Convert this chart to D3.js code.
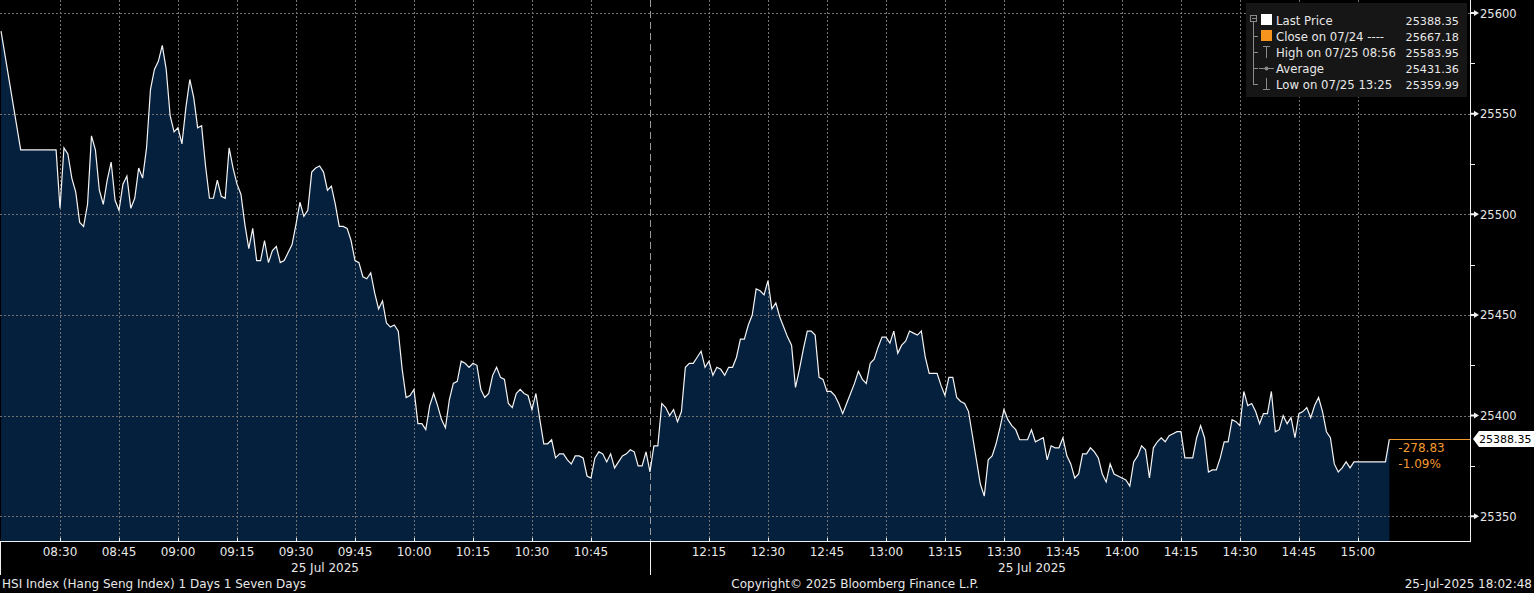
<!DOCTYPE html>
<html lang="en">
<head>
<meta charset="UTF-8">
<title>HSI Index intraday</title>
<script src="https://d3js.org/d3.v7.min.js"></script>
<style>
body, html {
	margin: 0;
	padding: 0;
	background: #000;
	overflow: hidden;
}
text {
	font-family: "DejaVu Sans", sans-serif;
	font-size: 12px;
	fill: #e8e8e8;
}
.grid line {
	stroke: #727272;
	stroke-width: 1px;
	stroke-dasharray: 2,2;
	shape-rendering: crispEdges;
}
.axisline {
	stroke: #f0f0f0;
	stroke-width: 1px;
	shape-rendering: crispEdges;
}
.price {
	fill: none;
	stroke: #f4f4f4;
	stroke-width: 1.2px;
}
.area {
	fill: #05203d;
}
.legend-icon {
	stroke: #8a8a8a;
	fill: none;
	shape-rendering: crispEdges;
}
.chg {
	fill: #f39a2e;
}
</style>
</head>
<body>
<script>
// pre-open auction (chart clock)
var preTimes = ["08:15", "08:20", "08:29"];
var prePrices = [25591, 25532, 25532];

// morning session, one price per minute from 08:30 to 10:59
var amStart = "08:30";
var amPrices = [
	25503, 25533, 25530, 25518, 25511, 25496, 25494, 25505, 25539, 25532,
	25512, 25505, 25517, 25526, 25507, 25502, 25515, 25519, 25503, 25508,
	25523, 25518, 25533, 25562, 25572, 25576, 25584, 25572, 25549, 25541,
	25543, 25535, 25553, 25567, 25558, 25543, 25544, 25524, 25508, 25508,
	25517, 25509, 25508, 25533, 25523, 25515, 25510, 25495, 25483, 25493,
	25477, 25477, 25487, 25476, 25482, 25484, 25476, 25477, 25481, 25485,
	25495, 25506, 25499, 25502, 25521, 25523, 25524, 25521, 25512, 25514,
	25505, 25494, 25494, 25493, 25487, 25477, 25476, 25469, 25468, 25471,
	25461, 25453, 25457, 25446, 25444, 25445, 25442, 25423, 25409, 25410,
	25413, 25396, 25396, 25393, 25405, 25411, 25405, 25398, 25394, 25408,
	25416, 25417, 25427, 25426, 25424, 25426, 25425, 25413, 25409, 25411,
	25420, 25424, 25419, 25418, 25406, 25404, 25411, 25413, 25411, 25410,
	25403, 25411, 25398, 25386, 25386, 25388, 25379, 25381, 25381, 25378,
	25376, 25380, 25380, 25379, 25370, 25369, 25379, 25382, 25381, 25377,
	25381, 25374, 25377, 25380, 25381, 25383, 25382, 25375, 25375, 25382
];

// afternoon session, one price per minute from 12:00 to 15:00
var pmStart = "12:00";
var pmPrices = [
	25372, 25385, 25385, 25406, 25404, 25400, 25403, 25397, 25402, 25424,
	25426, 25426, 25429, 25432, 25424, 25427, 25420, 25424, 25423, 25420,
	25424, 25424, 25429, 25438, 25438, 25445, 25450, 25463, 25462, 25460,
	25467, 25453, 25456, 25449, 25444, 25439, 25435, 25414, 25423, 25433,
	25442, 25442, 25440, 25419, 25418, 25412, 25412, 25410, 25406, 25401,
	25406, 25411, 25416, 25422, 25418, 25416, 25426, 25428, 25434, 25439,
	25439, 25436, 25442, 25431, 25435, 25437, 25442, 25441, 25440, 25442,
	25429, 25421, 25421, 25421, 25415, 25410, 25419, 25419, 25409, 25407,
	25406, 25402, 25390, 25378, 25366, 25360, 25378, 25380, 25386, 25394,
	25403, 25398, 25395, 25393, 25388, 25388, 25388, 25393, 25387, 25388,
	25389, 25378, 25385, 25384, 25384, 25389, 25380, 25376, 25369, 25371,
	25381, 25381, 25384, 25382, 25379, 25371, 25367, 25376, 25371, 25370,
	25369, 25368, 25365, 25377, 25380, 25385, 25383, 25369, 25384, 25387,
	25389, 25387, 25390, 25391, 25392, 25392, 25379, 25379, 25379, 25389,
	25395, 25389, 25372, 25373, 25373, 25379, 25387, 25387, 25398, 25397,
	25395, 25412, 25405, 25406, 25402, 25396, 25401, 25401, 25412, 25392,
	25393, 25400, 25396, 25399, 25389, 25401, 25402, 25404, 25399, 25405,
	25409, 25402, 25392, 25389, 25376, 25372, 25374, 25377, 25374, 25377,
	25377
];

// closing auction
var closeTimes = ["15:07", "15:08"];
var closePrices = [25377, 25388.35];

var xTicks = ["08:30", "08:45", "09:00", "09:15", "09:30", "09:45", "10:00", "10:15", "10:30", "10:45",
	"12:15", "12:30", "12:45", "13:00", "13:15", "13:30", "13:45", "14:00", "14:15", "14:30", "14:45", "15:00"];
var yTicks = [25350, 25400, 25450, 25500, 25550, 25600];
var yMinorTicks = [25375, 25425, 25475, 25525, 25575];

var legendLabels = ["Last Price", "Close on 07/24 ----", "High on 07/25 08:56", "Average", "Low on 07/25 13:25"];
var legendValues = ["25388.35", "25667.18", "25583.95", "25431.36", "25359.99"];
var netChange = "-278.83";
var pctChange = "-1.09%";

var W = 1534, H = 593;
var plotRight = 1470, plotBottom = 541;

// chart clock with lunch removed: 12:00 sits right after 10:59
function toMin(s) {
	var p = s.split(":");
	var t = (+p[0]) * 60 + (+p[1]);
	return t >= 720 ? t - 60 : t;
}

var points = [];
preTimes.forEach(function(t, i) { points.push({t: toMin(t), v: prePrices[i]}); });
amPrices.forEach(function(v, i) { points.push({t: toMin(amStart) + i, v: v}); });
pmPrices.forEach(function(v, i) { points.push({t: toMin(pmStart) + i, v: v}); });
closeTimes.forEach(function(t, i) { points.push({t: toMin(t), v: closePrices[i]}); });

var x = d3.scaleLinear()
	.domain([494.74, 868.5])
	.range([0, plotRight]);

var y = d3.scaleLinear()
	.domain([25337.7, 25606.5])
	.range([plotBottom, 0]);

var svg = d3.select("body").append("svg")
	.attr("width", W)
	.attr("height", H);

svg.append("rect").attr("width", W).attr("height", H).attr("fill", "#000");

// area + line
var area = d3.area()
	.x(function(d) { return x(d.t); })
	.y0(plotBottom)
	.y1(function(d) { return y(d.v); });

var line = d3.line()
	.x(function(d) { return x(d.t); })
	.y(function(d) { return y(d.v); });

svg.append("path").datum(points).attr("class", "area").attr("d", area);

// gridlines
var grid = svg.append("g").attr("class", "grid");
grid.selectAll(".hg")
	.data(yTicks)
	.enter().append("line")
	.attr("x1", 0).attr("x2", plotRight)
	.attr("y1", function(d) { return Math.round(y(d)) + 0.5; })
	.attr("y2", function(d) { return Math.round(y(d)) + 0.5; });
grid.selectAll(".vg")
	.data(xTicks)
	.enter().append("line")
	.attr("y1", 0).attr("y2", plotBottom)
	.attr("x1", function(d) { return Math.round(x(toMin(d))) + 0.5; })
	.attr("x2", function(d) { return Math.round(x(toMin(d))) + 0.5; });

// session break
var breakX = Math.round(x(toMin("12:00"))) + 0.5;
svg.append("line")
	.attr("x1", breakX).attr("x2", breakX)
	.attr("y1", 0).attr("y2", plotBottom)
	.attr("stroke", "#9a9a9a")
	.attr("stroke-dasharray", "7,4");

svg.append("path").datum(points).attr("class", "price").attr("d", line);

// change vs previous close marker
var last = points[points.length - 1];
svg.append("line")
	.attr("x1", x(last.t)).attr("x2", plotRight)
	.attr("y1", Math.round(y(last.v)) + 0.5).attr("y2", Math.round(y(last.v)) + 0.5)
	.attr("stroke", "#f39a2e");
svg.append("text").attr("class", "chg")
	.attr("x", x(last.t) + 9).attr("y", y(last.v) + 13)
	.text(netChange);
svg.append("text").attr("class", "chg")
	.attr("x", x(last.t) + 9).attr("y", y(last.v) + 29)
	.text(pctChange);

// bottom axis
svg.append("line").attr("class", "axisline")
	.attr("x1", 0).attr("x2", plotRight + 1)
	.attr("y1", plotBottom + 0.5).attr("y2", plotBottom + 0.5);
svg.append("line").attr("class", "axisline")
	.attr("x1", 0.5).attr("x2", 0.5)
	.attr("y1", plotBottom).attr("y2", 575);
svg.append("line").attr("class", "axisline")
	.attr("x1", breakX).attr("x2", breakX)
	.attr("y1", plotBottom).attr("y2", 575);

svg.selectAll(".xtick")
	.data(xTicks)
	.enter().append("line")
	.attr("class", "axisline")
	.attr("x1", function(d) { return Math.round(x(toMin(d))) + 0.5; })
	.attr("x2", function(d) { return Math.round(x(toMin(d))) + 0.5; })
	.attr("y1", plotBottom - 3).attr("y2", plotBottom);

svg.selectAll(".xlabel")
	.data(xTicks)
	.enter().append("text")
	.attr("x", function(d) { return x(toMin(d)); })
	.attr("y", 556)
	.style("text-anchor", "middle")
	.text(function(d) { return d; });

svg.append("text").attr("x", 325).attr("y", 572).style("text-anchor", "middle").text("25 Jul 2025");
svg.append("text").attr("x", 1032).attr("y", 572).style("text-anchor", "middle").text("25 Jul 2025");

// right axis
svg.append("line").attr("class", "axisline")
	.attr("x1", plotRight + 0.5).attr("x2", plotRight + 0.5)
	.attr("y1", 0).attr("y2", plotBottom + 1);

svg.selectAll(".ytri")
	.data(yTicks)
	.enter().append("path")
	.attr("fill", "#f0f0f0")
	.attr("d", function(d) {
		var yy = y(d);
		return "M" + (plotRight + 1) + "," + (yy - 1) + "L" + (plotRight + 4) + "," + (yy - 1) +
			"L" + (plotRight + 4) + "," + (yy - 3) + "L" + (plotRight + 9) + "," + yy +
			"L" + (plotRight + 4) + "," + (yy + 3) + "L" + (plotRight + 4) + "," + (yy + 1) +
			"L" + (plotRight + 1) + "," + (yy + 1) + "Z";
	});

svg.selectAll(".yminor")
	.data(yMinorTicks)
	.enter().append("line")
	.attr("class", "axisline")
	.attr("x1", plotRight + 1).attr("x2", plotRight + 5)
	.attr("y1", function(d) { return Math.round(y(d)) + 0.5; })
	.attr("y2", function(d) { return Math.round(y(d)) + 0.5; });

svg.selectAll(".ylabel")
	.data(yTicks)
	.enter().append("text")
	.attr("x", plotRight + 10)
	.attr("y", function(d) { return y(d) + 4.5; })
	.style("font-size", "11.5px")
	.text(function(d) { return d; });

// last price tag
var ly = y(last.v);
svg.append("path")
	.attr("fill", "#ffffff")
	.attr("d", "M" + (plotRight + 3) + "," + ly + "L" + (plotRight + 9) + "," + (ly - 8) +
		"L" + W + "," + (ly - 8) + "L" + W + "," + (ly + 8) + "L" + (plotRight + 9) + "," + (ly + 8) + "Z");
svg.append("text")
	.attr("x", plotRight + 9).attr("y", ly + 4)
	.style("fill", "#000")
	.style("font-size", "11px")
	.text(legendValues[0]);

// legend
var lg = svg.append("g");
lg.append("rect")
	.attr("x", 1246).attr("y", 3).attr("width", 221).attr("height", 94)
	.attr("fill", "#161616");

var rowY = [20, 36, 52, 68, 84];
lg.append("rect").attr("class", "legend-icon")
	.attr("x", 1250.5).attr("y", 15.5).attr("width", 6).attr("height", 6);
lg.append("line").attr("class", "legend-icon")
	.attr("x1", 1251.5).attr("x2", 1255.5).attr("y1", 18.5).attr("y2", 18.5);
lg.append("line").attr("class", "legend-icon")
	.attr("x1", 1253.5).attr("x2", 1253.5).attr("y1", 22).attr("y2", rowY[4] + 0.5);
lg.selectAll(".branch")
	.data(rowY.slice(1))
	.enter().append("line")
	.attr("class", "legend-icon")
	.attr("x1", 1253.5).attr("x2", 1258)
	.attr("y1", function(d) { return d + 0.5; })
	.attr("y2", function(d) { return d + 0.5; });

lg.append("rect").attr("x", 1261).attr("y", rowY[0] - 6).attr("width", 11).attr("height", 11).attr("fill", "#ffffff");
lg.append("rect").attr("x", 1261).attr("y", rowY[1] - 6).attr("width", 11).attr("height", 11).attr("fill", "#f7941d");
// high glyph
lg.append("path").attr("class", "legend-icon")
	.attr("d", "M1263," + (rowY[2] - 5.5) + "H1270M1266.5," + (rowY[2] - 5.5) + "V" + (rowY[2] + 6));
// average glyph
lg.append("path").attr("class", "legend-icon")
	.attr("d", "M1259," + (rowY[3] + 0.5) + "H1274");
lg.append("circle").attr("cx", 1266.5).attr("cy", rowY[3] + 0.5).attr("r", 2).attr("fill", "#8a8a8a");
// low glyph
lg.append("path").attr("class", "legend-icon")
	.attr("d", "M1266.5," + (rowY[4] - 6) + "V" + (rowY[4] + 5.5) + "M1263," + (rowY[4] + 5.5) + "H1270");

lg.selectAll(".ll")
	.data(legendLabels)
	.enter().append("text")
	.attr("x", 1276)
	.attr("y", function(d, i) { return rowY[i] + 4.5; })
	.style("font-size", "11.7px")
	.text(function(d) { return d; });
lg.selectAll(".lv")
	.data(legendValues)
	.enter().append("text")
	.attr("x", 1459)
	.attr("y", function(d, i) { return rowY[i] + 4.5; })
	.style("font-size", "11.2px")
	.style("text-anchor", "end")
	.text(function(d) { return d; });

// footer
svg.append("text").attr("x", 2).attr("y", 588).text("HSI Index (Hang Seng Index) 1 Days 1 Seven Days");
svg.append("text").attr("x", 855).attr("y", 588).style("text-anchor", "middle").text("Copyright\u00A9 2025 Bloomberg Finance L.P.");
svg.append("text").attr("x", 1532).attr("y", 588).style("text-anchor", "end").text("25-Jul-2025 18:02:48");
</script>
</body>
</html>
